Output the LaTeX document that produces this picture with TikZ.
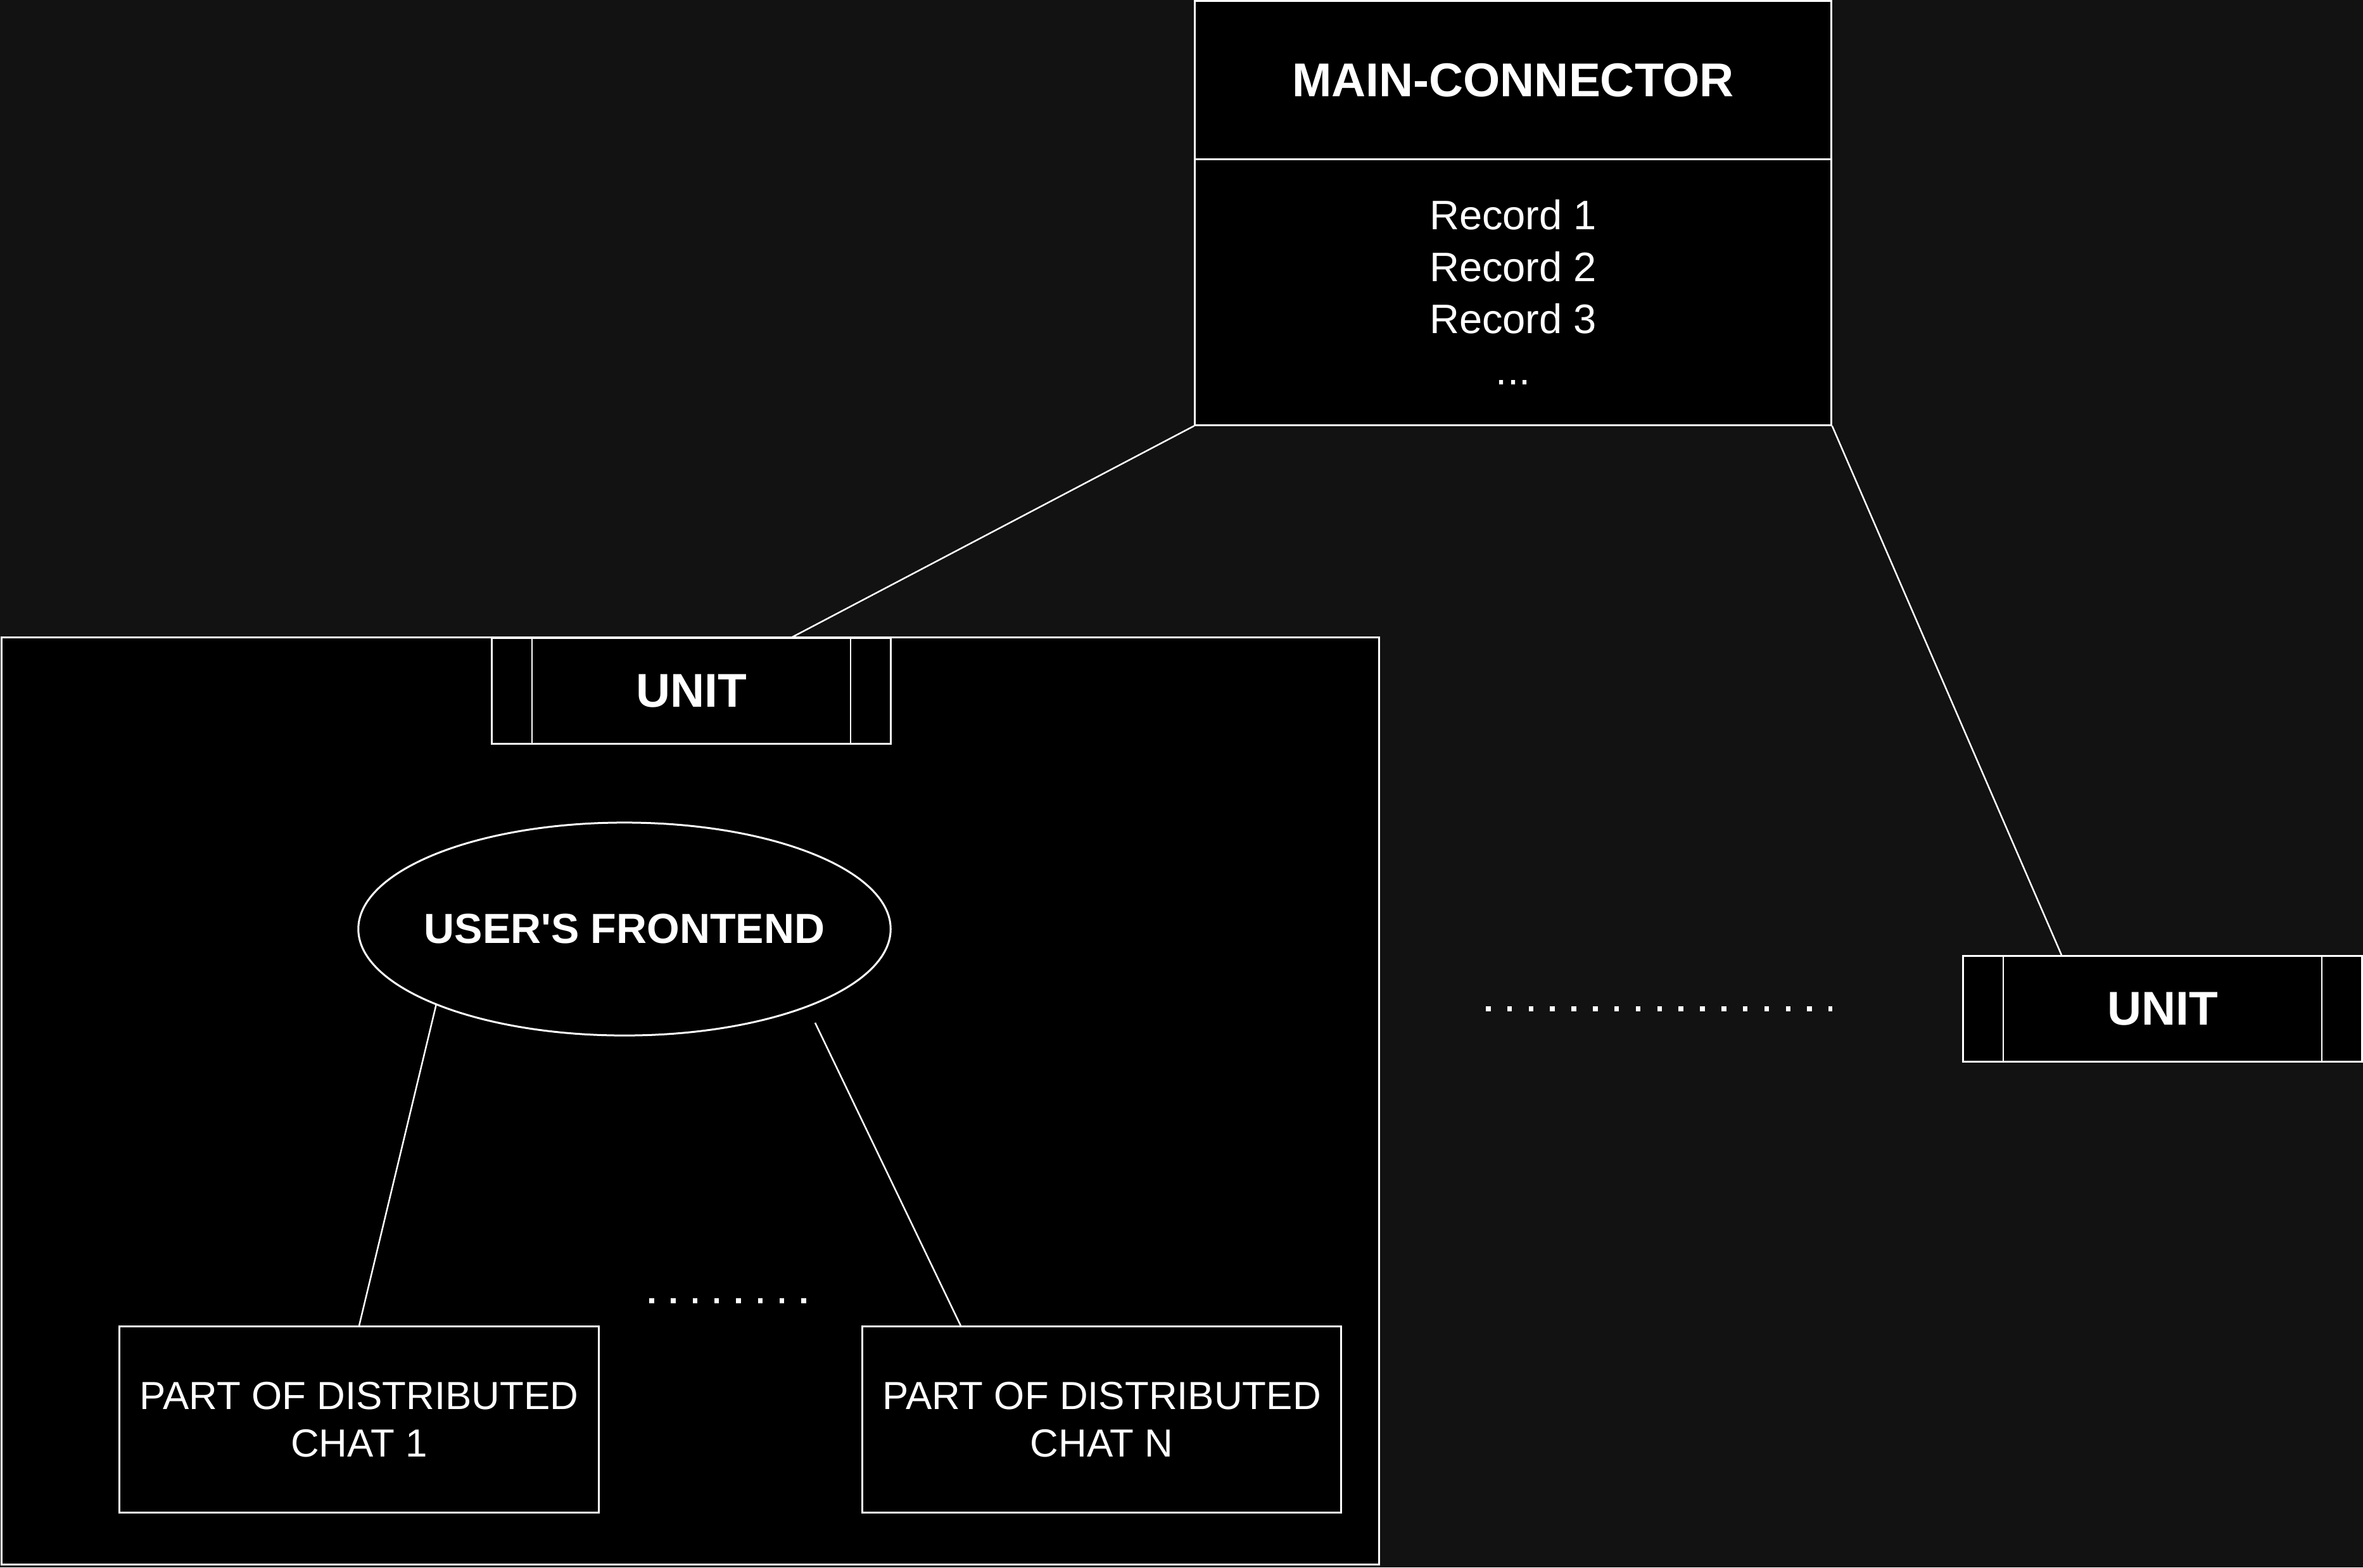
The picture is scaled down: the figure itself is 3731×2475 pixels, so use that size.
\documentclass[tikz,border=0pt]{standalone}
\usepackage{fontspec}
\setmainfont{Liberation Sans}
\usetikzlibrary{shapes.geometric,calc}
\definecolor{bg}{RGB}{18,18,18}
\newcommand\titlef{\fontsize{21.3pt}{25pt}\selectfont\bfseries}
\newcommand\ellf{\fontsize{18.9pt}{22pt}\selectfont\bfseries}
\newcommand\recf{\fontsize{18.5pt}{23.3pt}\selectfont}
\newcommand\chatf{\fontsize{17.6pt}{21.3pt}\selectfont}
\begin{document}
\begin{tikzpicture}[x=0.01cm, y=-0.01cm,
  box/.style={draw=white, fill=black, line width=0.03cm, inner sep=0pt, text=white, align=center},
  unitbox/.style={box, minimum width=6.29cm, minimum height=1.67cm, font=\titlef,
    path picture={
      \draw[white, line width=0.025cm] ([xshift=0.63cm]path picture bounding box.north west) -- ([xshift=0.63cm]path picture bounding box.south west);
      \draw[white, line width=0.025cm] ([xshift=-0.63cm]path picture bounding box.north east) -- ([xshift=-0.63cm]path picture bounding box.south east);
    }},
  chatbox/.style={box, minimum width=7.56cm, minimum height=2.93cm, font=\chatf},
  conn/.style={draw=white, line width=0.025cm},
  dots/.style={draw=white, line width=0.08cm, dash pattern=on 0.075cm off 0.263cm}
]
\path[use as bounding box, fill=bg] (0,0) rectangle (3731,2475);

% main connector
\node[box, minimum width=10.04cm, minimum height=2.50cm, font=\titlef] (mainh) at (2389,127) {MAIN-CONNECTOR};
\node[box, minimum width=10.04cm, minimum height=4.19cm, font=\recf] (mainb) at (2389,461.5) {Record 1\\Record 2\\Record 3\\...};

% container
\node[box, minimum width=21.74cm, minimum height=14.63cm] (cont) at (1090,1738.5) {};
\node[unitbox] (unitL) at (1091.5,1091) {UNIT};
\node[unitbox] (unitR) at (3414.5,1593) {UNIT};

\node[box, ellipse, minimum width=8.40cm, minimum height=3.36cm] (fe) at (986,1467) {};
\node[text=white, font=\ellf, inner sep=0pt] (feT) at (fe.center) {USER\textquotesingle S FRONTEND};

\node[chatbox] (chat1) at (567,2241.5) {PART OF DISTRIBUTED\\CHAT 1};
\node[chatbox] (chat2) at (1739.5,2241.5) {PART OF DISTRIBUTED\\CHAT N};

% connectors
\coordinate (cL) at (1249,1007);
\coordinate (feR) at (1287,1615);
\draw[conn] (mainb.south west) -- (cL);
\draw[conn] (mainb.south east) -- ([xshift=-1.595cm]unitR.north);
\draw[conn] (fe.202) -- (chat1.north);
\draw[conn] (feR) -- ([xshift=-2.225cm]chat2.north);

% dotted separators
\coordinate (d1a) at (2346,1593);
\coordinate (d1b) at (2893,1593);
\coordinate (d2a) at (1025,2054);
\coordinate (d2b) at (1273,2054);
\path[dots] (d1a) -- (d1b);
\path[dots, dash pattern=on 0.075cm off 0.268cm] (d2a) -- (d2b);
\end{tikzpicture}
\end{document}
